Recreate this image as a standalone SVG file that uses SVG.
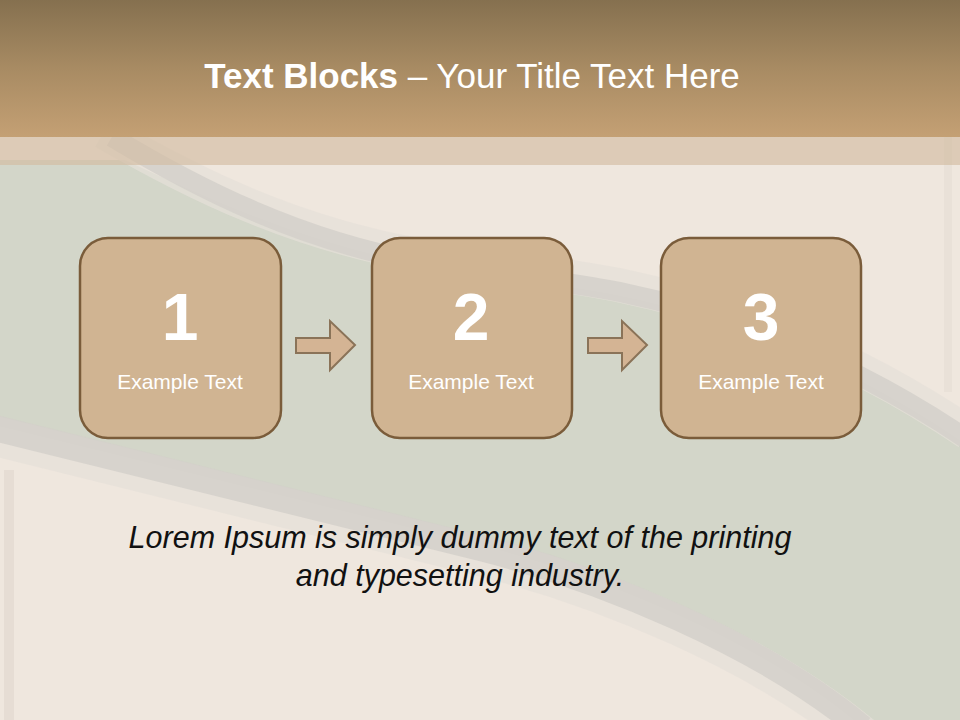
<svg xmlns="http://www.w3.org/2000/svg" width="960" height="720" viewBox="0 0 960 720">
<defs>
<linearGradient id="hdr" x1="0" y1="0" x2="0" y2="1">
<stop offset="0" stop-color="#85704f"/>
<stop offset="0.5" stop-color="#a88b63"/>
<stop offset="1" stop-color="#c4a074"/>
</linearGradient>
<style>
.box{fill:#d0b492;stroke:#7a5c3a;stroke-width:2.5}
.num{font-family:"Liberation Sans",Arial,sans-serif;font-weight:bold;font-size:66px;fill:#ffffff;text-anchor:middle}
.lbl{font-family:"Liberation Sans",Arial,sans-serif;font-size:21px;fill:#ffffff;text-anchor:middle}
.arr{fill:#d4b494;stroke:#8a7358;stroke-width:2}
.body{font-family:"Liberation Sans",Arial,sans-serif;font-style:italic;font-size:30.5px;fill:#111111;text-anchor:middle}
.band{fill:none;stroke:#d3d0ca;opacity:0.85}
.glow{fill:none;stroke:#e6e0d8;opacity:0.7}
</style>
</defs>
<g id="background">
<rect x="0" y="0" width="960" height="720" fill="#efe7de"/>
<path d="M0,160 L125,160 C200,195 300,242 420,265 C500,279 560,284 620,296 C730,319 850,364 965,444 L965,725 L860,725 C760,640 600,575 480,545 C300,500 120,455 -5,425 Z" fill="#d3d6c9"/>
<path class="glow" stroke-width="34" d="M104,132 C195,185 295,233 418,255 C498,268 558,273 618,285 C730,308 850,353 968,433"/>
<path class="band" stroke-width="20" d="M112,137 C200,190 300,240 420,262 C500,275 560,280 620,292 C730,315 850,360 968,440"/>
<path class="glow" stroke-width="40" d="M-5,436 C120,466 300,511 480,556 C600,586 760,651 862,736"/>
<path class="band" stroke-width="26" d="M-5,428 C120,458 300,503 480,548 C600,578 760,643 862,728"/>
<rect x="944" y="137" width="8" height="255" fill="#e4dbd1" opacity="0.5"/>
<rect x="4" y="470" width="10" height="250" fill="#ddd4ca" opacity="0.5"/>
</g>
<g id="header">
<rect x="0" y="0" width="960" height="137" fill="url(#hdr)"/>
<rect x="0" y="137" width="960" height="28" fill="#d3bba2" opacity="0.65"/>
<text x="472" y="88" font-family="'Liberation Sans',Arial,sans-serif" font-size="35" fill="#ffffff" text-anchor="middle"><tspan font-weight="bold">Text Blocks</tspan> – Your Title Text Here</text>
</g>
<g id="node1">
<rect class="box" x="80" y="238" width="201" height="200" rx="28"/>
<text class="num" x="180" y="340">1</text>
<text class="lbl" x="180" y="389">Example Text</text>
</g>
<g id="node2">
<rect class="box" x="372" y="238" width="200" height="200" rx="28"/>
<text class="num" x="471" y="340">2</text>
<text class="lbl" x="471" y="389">Example Text</text>
</g>
<g id="node3">
<rect class="box" x="661" y="238" width="200" height="200" rx="28"/>
<text class="num" x="761" y="340">3</text>
<text class="lbl" x="761" y="389">Example Text</text>
</g>
<g id="connectors">
<path class="arr" d="M296,338 L330,338 L330,321 L355,345 L330,370 L330,353 L296,353 Z"/>
<path class="arr" d="M588,338 L622,338 L622,321 L647,345 L622,370 L622,353 L588,353 Z"/>
</g>
<g id="caption">
<text class="body" x="460" y="548">Lorem Ipsum is simply dummy text of the printing</text>
<text class="body" x="460" y="586">and typesetting industry.</text>
</g>
</svg>
